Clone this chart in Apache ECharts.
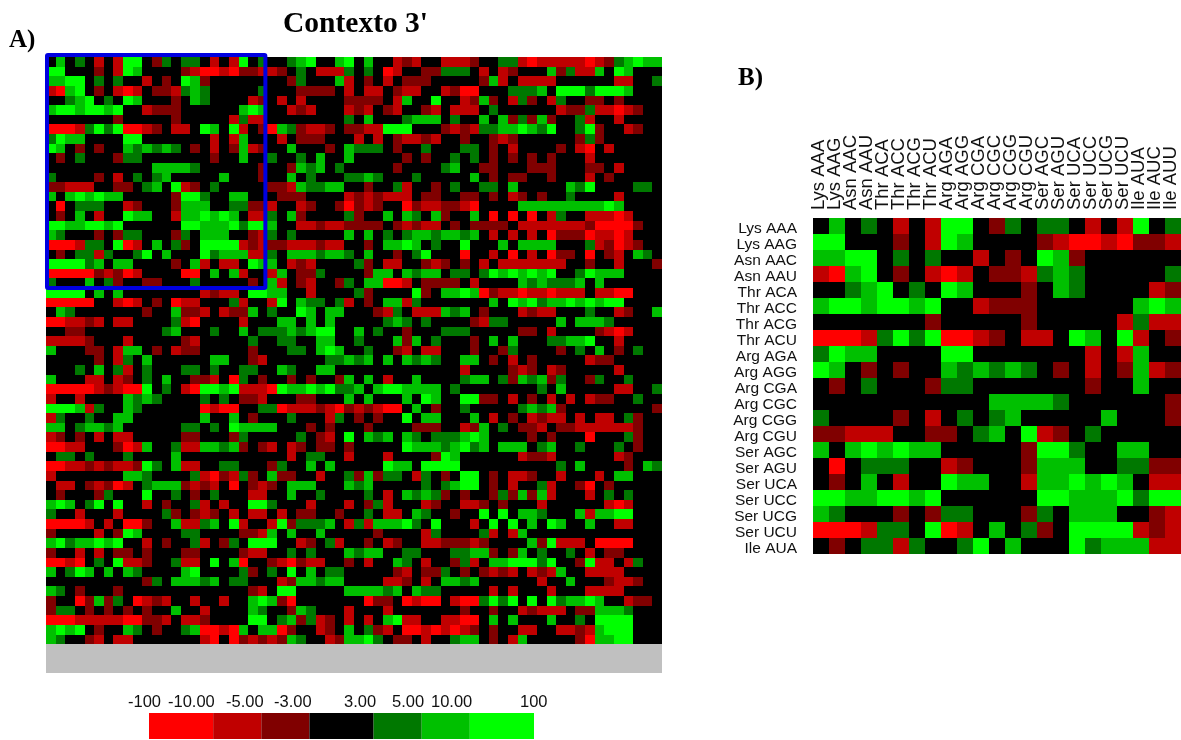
<!DOCTYPE html>
<html>
<head>
<meta charset="utf-8">
<style>html,body{margin:0;padding:0;background:#fff}#c{width:1181px;height:740px}</style>
<script src="https://cdn.jsdelivr.net/npm/echarts@6/dist/echarts.min.js"></script>
</head>
<body>
<div id="c"></div>
<script>
// Level codes: R r d . g m G, x = no data (stop codons)
const codeValues = {R:-20, r:-7, d:-4, '.':0, g:4, m:7, G:20, x:1000};
const codons = ['Lys AAA','Lys AAG','Asn AAC','Asn AAU','Thr ACA','Thr ACC','Thr ACG','Thr ACU','Arg AGA','Arg AGG','Arg CGA','Arg CGC','Arg CGG','Arg CGU','Ser AGC','Ser AGU','Ser UCA','Ser UCC','Ser UCG','Ser UCU','Ile AUA','Ile AUC','Ile AUU'];
const panelBRowLabels = codons.slice(0,21);
const panelBColLabels = codons;
const panelBRows = [
".m.g.r.rGG.dg.gg.r.rG.g",
"GG...d.rGm....drRRrRddr",
"mmGG.g.g..r.d.Gmd......",
"rRmG.d.rRr.ddrgmg.....g",
"..gmG.g.Gm...d.mg....rd",
"mGGmGGmG..rddd......mGm",
".......d.....d.....rgrr",
"RRRrgGgGRRrd.rr.Gm.Gr.d",
"gGmm....GG.......r.rm..",
"Gm.d.d..mgmgmg.d.r.dmrd",
".d.g...dgg.......d..m..",
"...........mmmmg......d",
"g....d.r.g.gm.....m...d",
"ddrrr..dd.gm.Grd.g.....",
"m.mGmGmm.....dGGg..mm..",
".R.ggg..rd...dmmm..ggdd",
".d.m.r..Gmm..rmmGmGm.rr",
"GGmmGGmG......GGmmmGgGG",
"mg...d.dgg...dg.mmm..dr",
"RRRrgg.GRr.m.gd.GGGGrdr",
".d.ggrg..gG.m...Ggmmmrr"
];
const panelARows = [
".m.g.r.rGG.dg.gg.r.rG.g ..gmG..mG .m..rdr..rrrd..ggrRrrrrrRrdgmGmm",
"GG...d.rGm....drRRrRddr rd.g.rrrg .g.Rr..ddggg.r.rd...mdgrrm.Gm...",
"mmGG.g.g..r.d.Gmd...... ..dg...mr .d.r.ddd.....dmr.rrrr......rr..g",
"rRmG.d.rRr.ddrgmg.....g ...dddd.r .rr.drr..rdRR...gggm.GGGgGGGm...",
"..gmG.g.Gm...d.mg....rd .r.r....d ddd.rm..G..rdmd.rgd.rg..dd.d....",
"mGGmGGmG..rddd......mGm ..rdr...r dr.dr..dr.rrr.g......rddgrrRrd..",
".......d.....d.....rgrr ........g .m...gmmm.g..m.mdgdmd..gr..r....",
"RRRrgGgGRRrd.rr.Gm.Gr.d Rmgdrrd.d drrGGG...drdrggmmGmgG..gGd..rd..",
"gGmm....GG.......r.rm.. .r.ddd... r.r.drrdr..d..drd......dgd......",
"Gm.d.d..mgmgmg.d.r.dmrd ..m...d.m ggg.d..g...gg.d.r....d.rR.r.....",
".d.g...dgg.......d..m.. g..g.m..m .....d.d..g.g.d.d.d.d...r.......",
"...........mmmmg......d ..dmgm.g. ....d....gm..dd...ddd...dd.r....",
"g....d.r.g.gm.....m...d ..m.g...g gmg...g.....m.d.dd..d...r.d.....",
"ddrrr..dd.gm.Grd.g..... ddrmggmm. .d..gr..d.g..gg.m.....mgG....gg.",
"m.mGmGmm.....dGGg..mm.. .ddd....r drdrrr.dd..dd.d.rd.d..g....r....",
".R.ggg..rd...dmmm..ggdd r..rd..dR drd..RdrrddrR....mmmmmmmmmGm....",
".d.m.r..Gmm..rmmGmGm.rr g.md....g d..m.mg.md..m.R.R.R.rg..rrrRr...",
"GGmmGGmG......GGmmmGgGG m..rrdrrd ddd.drdrr.d.dddd.rrrrrrrdRRRRd..",
"mg...d.dgg...dg.mmm..dr g.g.....m .m.g.gmmgmmgm.r.r.r.RdddRrrRr...",
"RRRrgg.GRr.m.gd.GGGGrdr ddrrrdrr. .d.mmGm.g..G...m.mmmm...grdRrd..",
".d.ggrg..gG.m...Ggmmmrr g.mmmgmmg .m..d.gG...R..r.R.r.Rdd.R.dr.mg.",
"GGGGgm.mm....d.mr.rr.Gm m.rdr.... gd.rr..drd.d.r.rrrrrrr..d..r...d",
"RRRRRdrdRr....RR.m.mr.. rm.ddg... .dmm.mgmm.gg.gGmGmGmG..gGmmm....",
"g...m.gd..dd...g.....d. mr.dr..dg .mmRRr.dddd.r....mgmgggm.m......",
"GGGG.m.m........rdrr.GG mm..r.... gd....Gd.mmGmRdrrRrrRrrr.rrRR...",
"RRRRR..rRr.d.Rrr...gr.. rG.mgg.gr .d.mmrg.......m.GmGgmmGmGmGG....",
".mg.......d..mddr.rddm. g..Gm.mm. ..drg.rrrmgm.d...rdrr...g..rd..m",
"RRrrdr.rr....grR....r.. .mm.m.m.. ...gmg.g....drgg.....m.mmmg.....",
"..dd........gm...g..m.g ggmgmGG.. m.g..d...ggg.....dd.r....drRr...",
"rrrrd...r.....dr.....g. .gg..mm.. g...mdm.g...d.m.m...ggmmG..r....",
"m...dd.rmm.d.rdd.....d. ..gg.mGm. .g..dr.rr...d..dg....d.g.m.d.g..",
".....d.rg.m......mm..dr ......ggm gm.m.mgmg..mm.d.r.d.....rdd.....",
"...g.m.gr.g...gg.g..gg. .mg..mm.. ...........r....drd.rd.....r....",
"m...rr.rd.g.m..ddr.Rg.d ..d.d..dm .m.r..m....gmm.gdmgmdg..dg..g...",
"RRRRRrdrRRG.g.rRGGmGrrr RGmmGmGgg m.mGGmmmm.g........g.m.....rr..g",
"r..r....mgmg....g.g.ddr ...dd...m .m...m.Gm..GGdd.r.d.r.r.rdd..g..",
"GGGmrg..mg......RrRR..g gRrrrdrRd rdrRR.m.d..g.....gmgmd.........d",
"rg..g..mm.......m..m.d. ..g...rg. d.d..G.mm...m.r.d.rdrr.r.rr.gd..",
"mm.gmmgm......gg.g.Gmmm m...d.d.. .d....ddd..rdm.g.ddr.ddrrrrrrd..",
"rd.d.r.rr.....dd...dg.. ...g.dr.G .mgm.mg.gggmGm....d.d...R...gd..",
"RRrr...dRrm..grrmmgmd.d r.rd.dd.d .....GmmmgmGgm.mmm.gm..g...g.d..",
".gg.g...g....m......... ..r.gg..r ...r....dGm......rddr......rd...",
"RRrrdrdrrdGg.mrr..gg... dg..m.m.. ...Gmm.GGGG..........g.m....d.mg",
"r.......mmg....grRdrgd. mdd..r..g dmdgg.rg.d.GG.d.rrd..r...r.mm...",
".rr.drdRr.gmmmdrdr.R.dr d.mmm...m gm.....g.gmGG.d.r..gr..dR.d.....",
".d...dg...G..g.d.g...rr ..m..g... .g.r.mgmgd.d..dgdmdmr...r.g.g...",
"mGm.gG.G..r.d..gr.r..GG g...r...r .dgr...rd..rrd.d...r......rRr...",
"g..r...r....gd.drd.r.rr .r.dd..d. .g.rr.mg..d..G.G.mmg...mrmmGG...",
"RRRRr.r.RRd..mrrgm.Gr.. rGdgggm.r grmmmGg.G...r.G.G.m.Gm..m..rr...",
"d....r.dGm....gg....ddr m.m..m... ..d....rg....gr.rm..............",
"mGgmmGmG..r.d..gr.dg.GG G..rd.gr. .d.rd..rrdddrd....mdGrrr.RRRR...",
"d..r.r.dd.d...dd....drr ..g.g...m gmm..gg...ggmmd.dm.g..g.r.dd....",
"RRrR.g.Grrd..grr.G.mR.. drRdrr..d .r..mg.r..dgr.mmGGGgG..dGrr.rg..",
"m.gGm.m.mg....mG....gd. g.G.m.gg. ....dr.ddg.d.drdr.rdrm..rrrr....",
"..........dg.mmmgm.gg.. .rdmmgmm. ...rrd.r.mmgm......r..m...drrd..",
"mg.d...d.............dr .GG.....m mmmgm.mgg.....r.r...r...rrrr....",
"d..Rdmdg.Rrdr..r..r..mG mdR...... .Rdd.RrRR.rRRgGgG.G.GgmmGm..rdd.",
"dgg.d.d.d.d..m..r....mg ..dmg...r ...r.......d..d..rdrrr.ddmmmg...",
"RRRrrrrrRRddr.rrd....GG .gmdgrd.r .r.mGrr..rrRR.m.m...m..g.GGGG...",
"mGmG.d..mg.d..gmRRrRm.m mRd..rd.m .gdr.RRrRrRrd.d..rr..rrdrmGGG...",
"mg..dr.rr.......rR.Rdrd rdmg..rdm mGg.dd.r..gmm.d.rm.....dRmmGG..."
];
const noDataRows = 3;
const legendLabels = ['-100','-10.00','-5.00','-3.00','3.00','5.00','10.00','100'];
const legendLabelLeft = [128,168,226,274,344,392,431,520];
const legendSpans = [4,3,3,4,3,3,4];
const levelColors = ['#FF0000','#C00000','#800000','#000000','#007800','#00C000','#00FF00'];
const boxed = [[0,0,22,23]];

function cells(rows){
  const out=[];
  rows.forEach((s,y)=>{s.replace(/ /g,'').split('').forEach((c,x)=>out.push([x,y,codeValues[c]]));});
  return out;
}
const nCols = panelARows[0].replace(/ /g,'').length;
const aRows = panelARows.concat(Array.from({length:noDataRows},()=>'x'.repeat(nCols)));
const idx = n => Array.from({length:n},(_,i)=>String(i));
const hidden = {show:false};
const font = 'Liberation Sans, Arial, sans-serif';

// cells snapped to whole pixels from the axes' own bands
function renderCell(p,api){
  const c=api.coord([api.value(0),api.value(1)]), s=api.size([1,1]);
  const x0=Math.round(c[0]-s[0]/2), x1=Math.round(c[0]+s[0]/2);
  const y0=Math.round(c[1]-s[1]/2), y1=Math.round(c[1]+s[1]/2);
  return {type:'rect',shape:{x:x0,y:y0,width:x1-x0,height:y1-y0},style:{fill:api.visual('color'),stroke:null}};
}
const series = [
  {type:'custom',xAxisIndex:0,yAxisIndex:0,data:cells(aRows),encode:{x:0,y:1},renderItem:renderCell,animation:false,silent:true},
  {type:'custom',xAxisIndex:1,yAxisIndex:1,data:cells(panelBRows),encode:{x:0,y:1},renderItem:renderCell,animation:false,silent:true},
  {type:'custom',xAxisIndex:0,yAxisIndex:0,clip:false,z:10,data:boxed,encode:{x:[0,2],y:[1,3]},animation:false,silent:true,
   renderItem:(p,api)=>{
     const a=api.coord([api.value(0),api.value(1)]), b=api.coord([api.value(2),api.value(3)]), s=api.size([1,1]);
     return {type:'rect',shape:{x:a[0]-s[0]/2+1,y:a[1]-s[1]/2-2,width:b[0]-a[0]+s[0]-3,height:b[1]-a[1]+s[1]+2,r:1},
             style:{fill:'none',stroke:'#0000E0',lineWidth:4}};
   }}
];
legendSpans.forEach((v,i)=>series.push({type:'bar',xAxisIndex:2,yAxisIndex:2,stack:'k',barWidth:'100%',data:[v],
  itemStyle:{color:levelColors[i]},animation:false,silent:true}));

const option = {
  backgroundColor:'#fff',
  animation:false,
  grid:[
    {left:46,top:57,width:616,height:616,outerBoundsMode:'none'},
    {left:813,top:218,width:368,height:336,outerBoundsMode:'none'},
    {left:149,top:713,width:385,height:26,outerBoundsMode:'none'}
  ],
  xAxis:[
    {type:'category',gridIndex:0,data:idx(nCols),show:false},
    {type:'category',gridIndex:1,data:panelBColLabels,position:'top',axisLine:hidden,axisTick:hidden,splitLine:hidden,
     axisLabel:{interval:0,rotate:-90,fontFamily:font,fontSize:18.5,color:'#111',margin:8,verticalAlign:'bottom',lineHeight:5}},
    {type:'value',gridIndex:2,min:0,max:24,show:false}
  ],
  yAxis:[
    {type:'category',gridIndex:0,data:idx(aRows.length),inverse:true,show:false},
    {type:'category',gridIndex:1,data:panelBRowLabels,inverse:true,axisLine:hidden,axisTick:hidden,splitLine:hidden,
     axisLabel:{interval:0,fontFamily:font,fontSize:15.5,color:'#111',margin:16,verticalAlign:'top',lineHeight:6}},
    {type:'category',gridIndex:2,data:['k'],show:false}
  ],
  visualMap:{show:false,type:'piecewise',seriesIndex:[0,1],dimension:2,pieces:[
    {min:-100,lt:-10,color:levelColors[0]},
    {gte:-10,lt:-5,color:levelColors[1]},
    {gte:-5,lt:-3,color:levelColors[2]},
    {gte:-3,lte:3,color:levelColors[3]},
    {gt:3,lte:5,color:levelColors[4]},
    {gt:5,lte:10,color:levelColors[5]},
    {gt:10,lte:100,color:levelColors[6]},
    {gt:100,color:'#C0C0C0'}
  ]},
  title:[
    {text:"Contexto 3'",left:283,top:9,padding:0,textStyle:{fontFamily:'Liberation Serif',fontWeight:'bold',fontSize:29.5,color:'#000'}},
    {text:'A)',left:9,top:28,padding:0,textStyle:{fontFamily:'Liberation Serif',fontWeight:'bold',fontSize:25,color:'#000'}},
    {text:'B)',left:738,top:66,padding:0,textStyle:{fontFamily:'Liberation Serif',fontWeight:'bold',fontSize:25,color:'#000'}}
  ].concat(legendLabels.map((t,i)=>({text:t,left:legendLabelLeft[i],top:694,padding:0,
    textStyle:{fontFamily:font,fontWeight:'normal',fontSize:16.5,color:'#111'}}))),
  series
};
const chart = echarts.init(document.getElementById('c'),null,{renderer:'canvas'});
chart.setOption(option);
</script>
</body>
</html>
